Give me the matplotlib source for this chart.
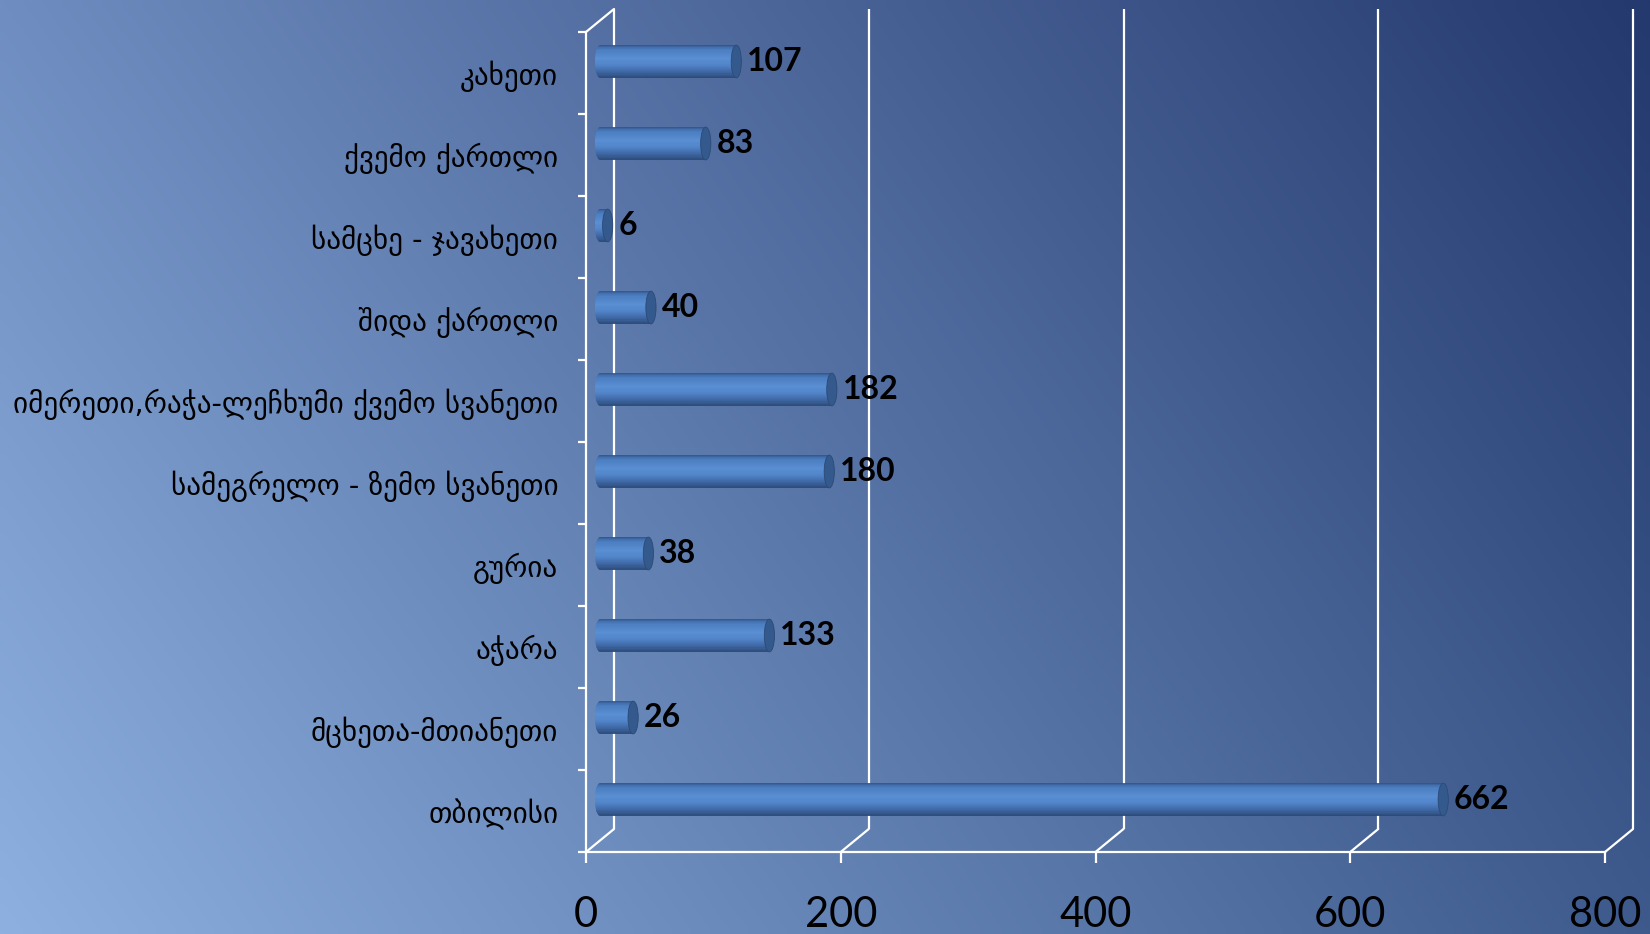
"""Horizontal 3D-style cylinder bar chart of regional counts (Georgia)."""
import matplotlib
matplotlib.use("Agg")
import matplotlib.pyplot as plt
import numpy as np
from matplotlib.path import Path
from matplotlib.patches import PathPatch, Ellipse
from matplotlib.transforms import ScaledTranslation

regions = [
    "კახეთი",
    "ქვემო ქართლი",
    "სამცხე - ჯავახეთი",
    "შიდა ქართლი",
    "იმერეთი,რაჭა-ლეჩხუმი ქვემო სვანეთი",
    "სამეგრელო - ზემო სვანეთი",
    "გურია",
    "აჭარა",
    "მცხეთა-მთიანეთი",
    "თბილისი",
]
values = [107, 83, 6, 40, 182, 180, 38, 133, 26, 662]
x_ticks = [0, 200, 400, 600, 800]

DPI = 100
W_PX, H_PX = 1650, 934
DX, DY = 28, 23          # depth offset of the back wall, pixels
BAR_H = 0.40             # bar thickness in category units
CAP_A = 4.0              # half width of the end ellipse, value units

fig = plt.figure(figsize=(W_PX / DPI, H_PX / DPI), dpi=DPI)

# background: light blue bottom-left to navy top-right
bg = fig.add_axes([0, 0, 1, 1])
tl, tr = np.array([111, 141, 192]), np.array([36, 57, 110])
bl, br = np.array([141, 176, 224]), np.array([62, 90, 141])
u = np.linspace(0, 1, 200)[None, :, None]
v = np.linspace(0, 1, 120)[:, None, None]
img = (1 - v) * ((1 - u) * tl + u * tr) + v * ((1 - u) * bl + u * br)
bg.imshow(img / 255.0, extent=[0, 1, 0, 1], aspect="auto", interpolation="bilinear")
bg.axis("off")

left, right = 586 / W_PX, 1605 / W_PX
bottom, top = (H_PX - 852) / H_PX, (H_PX - 32) / H_PX
ax = fig.add_axes([left, bottom, right - left, top - bottom])
ax.patch.set_alpha(0)
n = len(regions)
ypos = np.arange(n)

back = ax.transData + ScaledTranslation(DX / DPI, DY / DPI, fig.dpi_scale_trans)
mid = ax.transData + ScaledTranslation(DX / 2 / DPI, DY / 2 / DPI, fig.dpi_scale_trans)

line_kw = dict(color="white", lw=1.6, solid_capstyle="butt")
ylo, yhi = n - 0.5, -0.5
# back wall verticals + floor diagonals
for xt in x_ticks:
    ax.plot([xt, xt], [ylo, yhi], transform=back, clip_on=False, zorder=1, **line_kw)
    ax.annotate("", xy=(xt, ylo), xytext=(DX * 72 / DPI, DY * 72 / DPI),
                textcoords="offset points", annotation_clip=False,
                arrowprops=dict(arrowstyle="-", color="white", lw=1.6,
                                shrinkA=0, shrinkB=0))
ax.annotate("", xy=(0, yhi), xytext=(DX * 72 / DPI, DY * 72 / DPI),
            textcoords="offset points", annotation_clip=False,
            arrowprops=dict(arrowstyle="-", color="white", lw=1.6, shrinkA=0, shrinkB=0))

# cylinder shading profile (top -> bottom)
prof_t = [0.0, 0.07, 0.18, 0.42, 0.62, 0.85, 1.0]
prof_c = np.array([[46, 78, 126], [66, 110, 172], [78, 128, 196], [90, 143, 212],
                   [80, 130, 198], [60, 100, 158], [42, 70, 112]]) / 255.0
n_strip = 30

for yi, val in zip(ypos, values):
    # outline: rectangle body with rounded left end
    t = np.linspace(0, np.pi, 40)
    verts = [(0, yi - BAR_H / 2), (val, yi - BAR_H / 2), (val, yi + BAR_H / 2), (0, yi + BAR_H / 2)]
    verts += list(zip(-CAP_A * np.sin(t), yi + BAR_H / 2 * np.cos(t)))
    verts.append((0, yi - BAR_H / 2))
    clip = PathPatch(Path(verts), transform=mid, facecolor="none", edgecolor="none")
    for k in range(n_strip):
        tt = (k + 0.5) / n_strip
        col = [np.interp(tt, prof_t, prof_c[:, c]) for c in range(3)]
        ax.barh(yi - BAR_H / 2 + tt * BAR_H, val + CAP_A, left=-CAP_A,
                height=BAR_H / n_strip * 1.15, color=col, linewidth=0,
                transform=mid, clip_path=clip, zorder=3)
    ax.add_patch(Ellipse((val, yi), 2 * CAP_A, BAR_H, transform=mid,
                         facecolor="#34598c", edgecolor="#2b4a78", lw=0.6, zorder=4))
    ax.annotate(str(val), xy=(val + CAP_A, yi), xycoords=mid, xytext=(4, 0),
                textcoords="offset points", ha="left", va="center",
                fontsize=23, fontweight="bold", family="Lato", color="black", zorder=5)

ax.set_xlim(0, 800)
ax.set_ylim(ylo, yhi)

for s in ("top", "right"):
    ax.spines[s].set_visible(False)
for s in ("left", "bottom"):
    ax.spines[s].set_color("white")
    ax.spines[s].set_linewidth(1.6)
    ax.spines[s].set_zorder(2)

ax.set_xticks(x_ticks)
ax.set_xticklabels([str(x) for x in x_ticks], family="Lato", fontsize=30)
ax.tick_params(axis="x", colors="white", labelcolor="black", length=8, width=1.6, pad=24)

ax.set_yticks(ypos)
ax.set_yticklabels(regions, fontsize=21, family="DejaVu Sans")
ax.set_yticks(np.arange(-0.5, n, 1.0), minor=True)
ax.tick_params(axis="y", which="major", length=0, pad=20, labelcolor="black")
ax.tick_params(axis="y", which="minor", length=6, width=1.6, colors="white")

fig.savefig("out.png", dpi=DPI)
